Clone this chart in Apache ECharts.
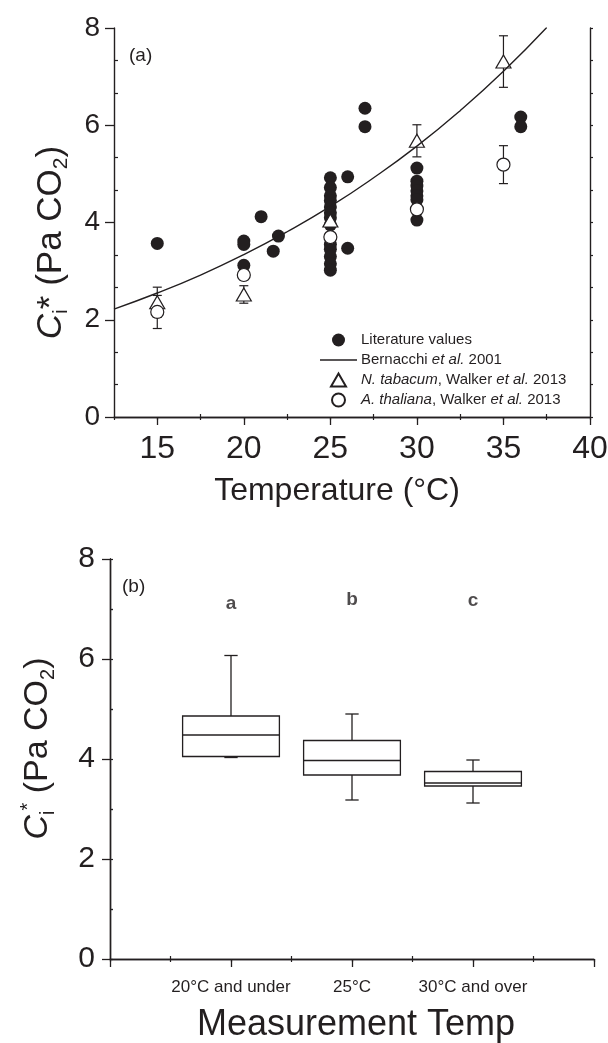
<!DOCTYPE html>
<html>
<head>
<meta charset="utf-8">
<script src="https://cdn.jsdelivr.net/npm/echarts@6/dist/echarts.min.js"></script>
<style>
html,body{margin:0;padding:0;background:#fff;}
#chart{width:608px;height:1043px;}
</style>
</head>
<body>
<div id="chart"></div>
<script>
// ---- Panel (a) data ----
const litTemp = [15, 20, 20, 20, 21, 21.7, 22,
  25, 25, 25, 25, 25, 25, 25, 25, 25, 25, 25, 25, 25,
  26, 26, 27, 27,
  30, 30, 30, 30, 30, 30, 30,
  36, 36];
const litCi = [3.57, 3.62, 3.55, 3.12, 4.12, 3.41, 3.72,
  4.92, 4.72, 4.55, 4.45, 4.32, 4.2, 4.1, 3.95, 3.55, 3.45, 3.3, 3.15, 3.02,
  4.94, 3.47, 6.35, 5.97,
  5.12, 4.85, 4.75, 4.65, 4.55, 4.47, 4.05,
  6.17, 5.97];

const curveTemp = [12.5, 15, 17.5, 20, 22.5, 25, 27.5, 30, 32.5, 35, 37.5];
const curveCi   = [2.22, 2.55, 2.92, 3.34, 3.81, 4.33, 4.92, 5.57, 6.30, 7.11, 8.01];

const tabTemp = [15, 20, 25, 30, 35];
const tabCi   = [2.36, 2.52, 4.04, 5.68, 7.31];
const tabErr  = [0.31, 0.18, 0.10, 0.33, 0.53];

const thalTemp = [15, 20, 25, 30, 35];
const thalCi   = [2.16, 2.92, 3.70, 4.27, 5.19];
const thalErr  = [0.34, 0.10, 0.08, 0.10, 0.39];

const seriesNames = ['Literature values', 'Bernacchi et al. 2001',
  'N. tabacum, Walker et al. 2013', 'A. thaliana, Walker et al. 2013'];

const xTicksA = [15, 20, 25, 30, 35, 40];
const xMinorA = [17.5, 22.5, 27.5, 32.5, 37.5];

// ---- Panel (b) data ----
const boxCats = ['20\u00b0C and under', '25\u00b0C', '30\u00b0C and over'];
// [min, Q1, median, Q3, max]
const boxStats = [
  [4.03, 4.05, 4.48, 4.86, 6.07],
  [3.18, 3.68, 3.97, 4.37, 4.90],
  [3.12, 3.46, 3.52, 3.75, 3.98]
];
const sigLetters = ['a', 'b', 'c'];
const sigY = [7.10, 7.18, 7.16];

// ---- build ----
const INK = '#231f20';
const FONT = '"Liberation Sans", Arial, sans-serif';
const axLine = {lineStyle: {color: INK, width: 1.4}};

const litData = litTemp.map((t, i) => [t, litCi[i]]);
const curveData = curveTemp.map((t, i) => [t, curveCi[i]]);
const tabData = tabTemp.map((t, i) => [t, tabCi[i]]);
const thalData = thalTemp.map((t, i) => [t, thalCi[i]]);
const errData = tabTemp.map((t, i) => [t, tabCi[i], tabErr[i]])
  .concat(thalTemp.map((t, i) => [t, thalCi[i], thalErr[i]]));
const boxData = boxStats.map((s, i) => [i + 1].concat(s));
const letterData = sigLetters.map((l, i) => [i + 1, sigY[i], l]);

function errRender(params, api) {
  const x = api.value(0), y = api.value(1), e = api.value(2);
  const t = api.coord([x, y + e]), b = api.coord([x, y - e]);
  const hw = 4.5;
  const st = {stroke: INK, lineWidth: 1.2};
  return {type: 'group', children: [
    {type: 'line', shape: {x1: t[0], y1: t[1], x2: b[0], y2: b[1]}, style: st},
    {type: 'line', shape: {x1: t[0] - hw, y1: t[1], x2: t[0] + hw, y2: t[1]}, style: st},
    {type: 'line', shape: {x1: b[0] - hw, y1: b[1], x2: b[0] + hw, y2: b[1]}, style: st}
  ]};
}

function boxRender(params, api) {
  const x = api.value(0);
  const pMin = api.coord([x, api.value(1)]);
  const pQ1 = api.coord([x, api.value(2)]);
  const pMed = api.coord([x, api.value(3)]);
  const pQ3 = api.coord([x, api.value(4)]);
  const pMax = api.coord([x, api.value(5)]);
  const bw = api.size([0.8, 0])[0];
  const cw = api.size([0.11, 0])[0];
  const cx = pMed[0];
  const st = {stroke: INK, lineWidth: 1.3, fill: null};
  return {type: 'group', children: [
    {type: 'line', shape: {x1: cx, y1: pMax[1], x2: cx, y2: pQ3[1]}, style: st},
    {type: 'line', shape: {x1: cx, y1: pMin[1], x2: cx, y2: pQ1[1]}, style: st},
    {type: 'line', shape: {x1: cx - cw / 2, y1: pMax[1], x2: cx + cw / 2, y2: pMax[1]}, style: st},
    {type: 'line', shape: {x1: cx - cw / 2, y1: pMin[1], x2: cx + cw / 2, y2: pMin[1]}, style: st},
    {type: 'rect', shape: {x: cx - bw / 2, y: pQ3[1], width: bw, height: pQ1[1] - pQ3[1]},
      style: {stroke: INK, lineWidth: 1.3, fill: '#fff'}},
    {type: 'line', shape: {x1: cx - bw / 2, y1: pMed[1], x2: cx + bw / 2, y2: pMed[1]}, style: st}
  ]};
}

const yNameA = '{c|C}{s|i}{m|* (Pa CO}{s|2}{m|)}';
const yNameB = '{c|C}{s|i}{p|*}{m| (Pa CO}{s|2}{m|)}';
function nameRich(fs) {
  return {
    c: {fontSize: fs, fontStyle: 'italic', fontFamily: FONT, color: INK, lineHeight: fs + 6},
    m: {fontSize: fs, fontFamily: FONT, color: INK, lineHeight: fs + 6},
    s: {fontSize: Math.round(fs * 0.6), fontFamily: FONT, color: INK, lineHeight: 14, verticalAlign: 'bottom'},
    p: {fontSize: Math.round(fs * 0.6), fontFamily: FONT, color: INK, lineHeight: 14, verticalAlign: 'top'}
  };
}

const option = {
  backgroundColor: '#fff',
  animation: false,
  textStyle: {fontFamily: FONT, color: INK},
  title: [
    {text: '(a)', left: 129, top: 46, padding: 0, textStyle: {fontSize: 19, fontWeight: 'normal', color: INK, fontFamily: FONT}},
    {text: '(b)', left: 122, top: 577, padding: 0, textStyle: {fontSize: 19, fontWeight: 'normal', color: INK, fontFamily: FONT}}
  ],
  grid: [
    {left: 114, top: 28, width: 476, height: 389, outerBoundsMode: 'none', containLabel: false},
    {left: 110, top: 559, width: 484, height: 400, outerBoundsMode: 'none', containLabel: false}
  ],
  legend: {
    data: [
      {name: seriesNames[0], icon: 'circle'},
      {name: seriesNames[1], icon: 'path://M0,0L37,0L37,1.4L0,1.4Z'},
      {name: seriesNames[2], icon: 'path://M7.5,0L15,13L0,13Z'},
      {name: seriesNames[3], icon: 'circle'}
    ],
    symbolKeepAspect: true,
    orient: 'vertical',
    left: 320, top: 330,
    itemWidth: 37, itemHeight: 13, itemGap: 0,
    padding: 0,
    selectedMode: false,
    formatter: function (n) {
      return n.replace('et al.', '{i|et al.}').replace(/^(N\. tabacum|A\. thaliana)/, '{i|$1}');
    },
    textStyle: {fontSize: 15, color: INK, fontFamily: FONT, lineHeight: 20, padding: [0, 0, 0, -1],
      rich: {i: {fontStyle: 'italic', fontSize: 15, color: INK, fontFamily: FONT, lineHeight: 20}}}
  },
  xAxis: [
    {gridIndex: 0, type: 'value', position: 'bottom', min: 12.5, max: 40, interval: 2.5,
      axisLine: axLine, splitLine: {show: false},
      axisTick: {customValues: xTicksA, length: 8, lineStyle: {color: INK, width: 1.3}},
      axisLabel: {customValues: xTicksA, fontSize: 32, color: INK, fontFamily: FONT, margin: 16},
      name: 'Temperature (\u00b0C)', nameLocation: 'middle', nameGap: 58,
      nameTextStyle: {fontSize: 32, color: INK, fontFamily: FONT, padding: [0, 30, 0, 0]}},
    {gridIndex: 0, type: 'value', position: 'bottom', min: 12.5, max: 40, interval: 2.5,
      axisLine: {show: false}, splitLine: {show: false}, axisLabel: {show: false},
      axisTick: {inside: true, customValues: xMinorA, length: 3, lineStyle: {color: INK, width: 1.2}}},
    {gridIndex: 0, type: 'value', position: 'top', min: 12.5, max: 40, interval: 2.5,
      axisLine: axLine, splitLine: {show: false}, axisLabel: {show: false},
      axisTick: {inside: true, length: 3, lineStyle: {color: INK, width: 1.2}}},

    {gridIndex: 1, type: 'value', position: 'bottom', min: 0, max: 4, interval: 1,
      axisLine: axLine, splitLine: {show: false},
      axisTick: {length: 8, lineStyle: {color: INK, width: 1.3}},
      axisLabel: {customValues: [1, 2, 3], formatter: v => boxCats[v - 1], fontSize: 17, color: INK, fontFamily: FONT, margin: 20},
      name: 'Measurement Temp', nameLocation: 'middle', nameGap: 48,
      nameTextStyle: {fontSize: 36, color: INK, fontFamily: FONT, padding: [0, 0, 0, 8]}},
    {gridIndex: 1, type: 'value', position: 'bottom', min: 0, max: 4, interval: 1,
      axisLine: {show: false}, splitLine: {show: false}, axisLabel: {show: false},
      axisTick: {show: false, inside: true},
      minorTick: {show: true, splitNumber: 2, length: 3, lineStyle: {color: INK, width: 1.2}}},
    {gridIndex: 1, type: 'value', position: 'top', min: 0, max: 4, interval: 1,
      axisLine: axLine, splitLine: {show: false}, axisLabel: {show: false},
      axisTick: {inside: true, length: 3, lineStyle: {color: INK, width: 1.2}},
      minorTick: {show: true, splitNumber: 2, length: 3, lineStyle: {color: INK, width: 1.2}}}
  ],
  yAxis: [
    {gridIndex: 0, type: 'value', position: 'left', min: 0, max: 8, interval: 2,
      axisLine: axLine, splitLine: {show: false},
      axisTick: {length: 9, lineStyle: {color: INK, width: 1.3}},
      axisLabel: {fontSize: 28, color: INK, fontFamily: FONT, margin: 14},
      name: yNameA, nameLocation: 'middle', nameRotate: 90, nameGap: 42,
      nameTextStyle: {rich: nameRich(35), padding: [0, 40, 0, 0]}},
    {gridIndex: 0, type: 'value', position: 'left', min: 0, max: 8, interval: 2,
      axisLine: {show: false}, splitLine: {show: false}, axisLabel: {show: false},
      axisTick: {show: false, inside: true},
      minorTick: {show: true, splitNumber: 3, length: 4, lineStyle: {color: INK, width: 1.2}}},
    {gridIndex: 0, type: 'value', position: 'right', min: 0, max: 8, interval: 2,
      axisLine: axLine, splitLine: {show: false}, axisLabel: {show: false},
      axisTick: {length: 3, lineStyle: {color: INK, width: 1.2}},
      minorTick: {show: true, splitNumber: 3, length: 3, lineStyle: {color: INK, width: 1.2}}},

    {gridIndex: 1, type: 'value', position: 'left', min: 0, max: 8, interval: 2,
      axisLine: axLine, splitLine: {show: false},
      axisTick: {length: 8, lineStyle: {color: INK, width: 1.3}},
      axisLabel: {fontSize: 30, color: INK, fontFamily: FONT, margin: 15},
      name: yNameB, nameLocation: 'middle', nameRotate: 90, nameGap: 52,
      nameTextStyle: {rich: nameRich(34), padding: [0, 0, 0, 21]}},
    {gridIndex: 1, type: 'value', position: 'left', min: 0, max: 8, interval: 2,
      axisLine: {show: false}, splitLine: {show: false}, axisLabel: {show: false},
      axisTick: {show: false, inside: true},
      minorTick: {show: true, splitNumber: 2, length: 3, lineStyle: {color: INK, width: 1.2}}},
    {gridIndex: 1, type: 'value', position: 'right', min: 0, max: 8, interval: 2,
      axisLine: axLine, splitLine: {show: false}, axisLabel: {show: false},
      axisTick: {length: 3, lineStyle: {color: INK, width: 1.2}},
      minorTick: {show: true, splitNumber: 2, length: 3, lineStyle: {color: INK, width: 1.2}}}
  ],
  series: [
    {name: seriesNames[0], type: 'scatter', xAxisIndex: 0, yAxisIndex: 0, data: litData,
      symbol: 'circle', symbolSize: 13, itemStyle: {color: INK, opacity: 1}},
    {name: seriesNames[1], type: 'line', xAxisIndex: 0, yAxisIndex: 0, data: curveData,
      smooth: true, symbol: 'none', showSymbol: false, clip: true,
      lineStyle: {color: INK, width: 1.4}, itemStyle: {color: INK}},
    {type: 'custom', xAxisIndex: 0, yAxisIndex: 0, data: errData, renderItem: errRender,
      encode: {x: 0, y: 1}, silent: true},
    {name: seriesNames[2], type: 'scatter', xAxisIndex: 0, yAxisIndex: 0, data: tabData,
      symbol: 'triangle', symbolSize: [15, 13],
      itemStyle: {color: '#fff', borderColor: INK, borderWidth: 1.2, opacity: 1}},
    {name: seriesNames[3], type: 'scatter', xAxisIndex: 0, yAxisIndex: 0, data: thalData,
      symbol: 'circle', symbolSize: 13,
      itemStyle: {color: '#fff', borderColor: INK, borderWidth: 1.2, opacity: 1}},

    {type: 'custom', xAxisIndex: 3, yAxisIndex: 3, data: boxData, renderItem: boxRender,
      encode: {x: 0, y: [1, 2, 3, 4, 5]}, silent: true},
    {type: 'scatter', xAxisIndex: 3, yAxisIndex: 3, data: letterData, symbolSize: 0,
      label: {show: true, position: 'inside', formatter: p => p.data[2], fontSize: 19, fontWeight: 'bold', color: INK, fontFamily: FONT},
      silent: true}
  ]
};

const chart = echarts.init(document.getElementById('chart'), null, {renderer: 'canvas'});
chart.setOption(option);
</script>
</body>
</html>
